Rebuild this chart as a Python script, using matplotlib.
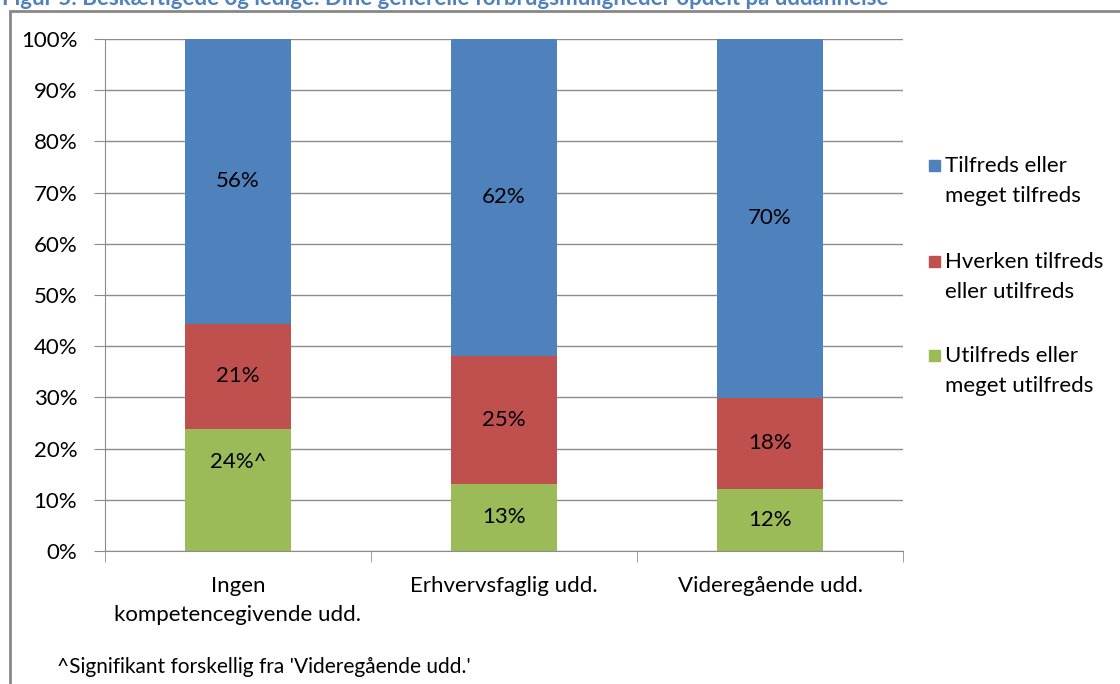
import numpy as np
import matplotlib
matplotlib.use('Agg')
import matplotlib.pyplot as plt
from matplotlib.patches import Rectangle

plt.rcParams['font.family'] = ['Lato', 'DejaVu Sans']

title = 'Figur 5: Beskæftigede og ledige: Dine generelle forbrugsmuligheder opdelt på uddannelse'
categories = ['Ingen\nkompetencegivende udd.', 'Erhvervsfaglig udd.', 'Videregående udd.']
series_names = ['Utilfreds eller\nmeget utilfreds',
                'Hverken tilfreds\neller utilfreds',
                'Tilfreds eller\nmeget tilfreds']
utilfreds = [23.8, 13.1, 12.1]
hverken = [20.6, 25.0, 17.8]
tilfreds = [55.6, 61.9, 70.1]
labels_utilfreds = ['24%^', '13%', '12%']
labels_hverken = ['21%', '25%', '18%']
labels_tilfreds = ['56%', '62%', '70%']
footnote = "^Signifikant forskellig fra 'Videregående udd.'"

colors = ['#9BBB59', '#C0504D', '#4F81BD']
FS = 16


def main():
    fig = plt.figure(figsize=(11.2, 6.84), dpi=100)
    ax = fig.add_axes([105 / 1120, 1 - 551 / 684, 798 / 1120, 512 / 684])

    x = np.arange(len(categories))
    values = [utilfreds, hverken, tilfreds]
    labels = [labels_utilfreds, labels_hverken, labels_tilfreds]
    bottom = np.zeros(len(categories))
    for i, vals in enumerate(values):
        vals = np.array(vals)
        ax.bar(x, vals, 0.4, bottom=bottom, color=colors[i], zorder=2)
        for j in range(len(categories)):
            ymid = bottom[j] + vals[j] / 2
            # the "^" label sits a bit higher in the original
            if labels[i][j].endswith('^'):
                ymid = bottom[j] + vals[j] * 0.73
            ax.text(x[j], ymid, labels[i][j], ha='center', va='center',
                    fontsize=FS, color='black', zorder=3)
        bottom = bottom + vals

    ax.set_xlim(-0.5, len(categories) - 0.5)
    ax.set_ylim(0, 100)
    ax.set_yticks(np.arange(0, 101, 10))
    ax.set_yticklabels(['%d%%' % v for v in range(0, 101, 10)], fontsize=FS)
    ax.yaxis.grid(True, color='#8c8c8c', linewidth=1, zorder=0)
    ax.set_axisbelow(True)

    ax.set_xticks(x)
    ax.set_xticklabels(categories, fontsize=FS, linespacing=1.55)
    ax.tick_params(axis='x', length=0, pad=18)
    ax.set_xticks(np.arange(-0.5, len(categories), 1), minor=True)
    ax.tick_params(axis='x', which='minor', length=8, color='#8c8c8c', direction='out')
    ax.tick_params(axis='y', length=8, color='#8c8c8c', pad=12)

    for s in ['top', 'right']:
        ax.spines[s].set_visible(False)
    for s in ['left', 'bottom']:
        ax.spines[s].set_color('#8c8c8c')

    # legend drawn by hand, top entry first
    leg_y = [165, 261, 355]
    for k, idx in enumerate([2, 1, 0]):
        y = leg_y[k]
        fig.patches.append(Rectangle((929 / 1120, 1 - (y + 6) / 684), 11 / 1120, 11 / 684,
                                     transform=fig.transFigure, color=colors[idx]))
        fig.text(945 / 1120, 1 - (y - 9) / 684, series_names[idx], fontsize=FS,
                 va='top', ha='left', linespacing=1.6)

    # outer chart frame
    fig.patches.append(Rectangle((10 / 1120, -0.05), 1.2, 1 - 11 / 684 + 0.05,
                                 transform=fig.transFigure, fill=False,
                                 edgecolor='#888888', linewidth=2))

    fig.text(2 / 1120, 1 - 5 / 684, title, fontsize=16, fontweight='bold',
             color='#4F81BD', va='baseline', ha='left')
    fig.text(57 / 1120, 1 - 667 / 684, footnote, fontsize=15, va='center', ha='left')

    fig.savefig('out.png', dpi=100)
    plt.close(fig)


if __name__ == '__main__':
    main()
